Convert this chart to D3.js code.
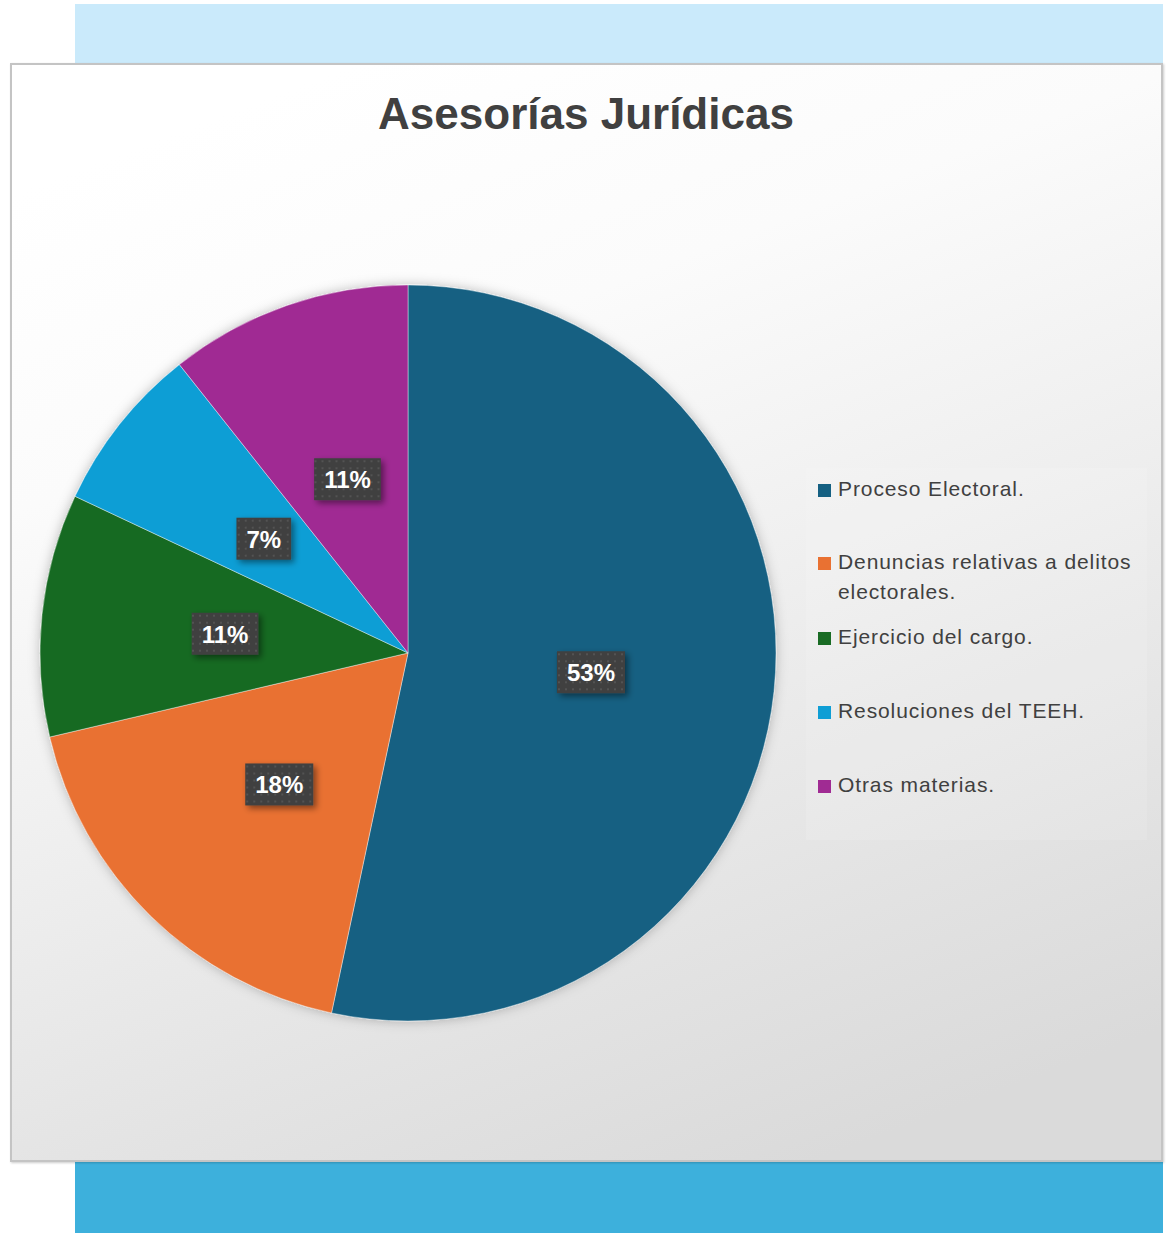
<!DOCTYPE html>
<html><head><meta charset="utf-8">
<script src="https://cdn.jsdelivr.net/npm/d3@7"></script>
<style>html,body{margin:0;padding:0;background:#fff;}svg{display:block;}</style>
</head><body>
<svg id="c" width="1168" height="1233"></svg>
<script>
const categories = ["Proceso Electoral.", "Denuncias relativas a delitos electorales.", "Ejercicio del cargo.", "Resoluciones del TEEH.", "Otras materias."];
const legendLines = [["Proceso Electoral."], ["Denuncias relativas a delitos", "electorales."], ["Ejercicio del cargo."], ["Resoluciones del TEEH."], ["Otras materias."]];
const values = [80, 27, 16, 11, 16];
const colors = ["#156082", "#E97132", "#196B24", "#0F9ED5", "#A02B93"];
const title = "Asesorías Jurídicas";

const svg = d3.select("#c");
const defs = svg.append("defs");
const g1 = defs.append("linearGradient").attr("id","bg").attr("x1","0.3").attr("y1","0").attr("x2","0.7").attr("y2","1");
g1.append("stop").attr("offset","0").attr("stop-color","#ffffff");
g1.append("stop").attr("offset","0.25").attr("stop-color","#fbfbfb");
g1.append("stop").attr("offset","1").attr("stop-color","#dadada");
const pat = defs.append("pattern").attr("id","dots").attr("width",7).attr("height",7).attr("patternUnits","userSpaceOnUse");
pat.append("rect").attr("width",7).attr("height",7).attr("fill","#404040");
pat.append("rect").attr("x",2).attr("y",2).attr("width",2).attr("height",2).attr("fill","#525252");
const sh = defs.append("filter").attr("id","sh").attr("x","-30%").attr("y","-30%").attr("width","170%").attr("height","170%");
sh.append("feDropShadow").attr("dx",3).attr("dy",3).attr("stdDeviation",3).attr("flood-color","#000").attr("flood-opacity",0.45);
const psh = defs.append("filter").attr("id","psh").attr("x","-10%").attr("y","-10%").attr("width","120%").attr("height","120%");
psh.append("feDropShadow").attr("dx",0).attr("dy",0).attr("stdDeviation",6).attr("flood-color","#000").attr("flood-opacity",0.25);
const fsh = defs.append("filter").attr("id","fsh").attr("x","-5%").attr("y","-5%").attr("width","110%").attr("height","110%");
fsh.append("feDropShadow").attr("dx",1).attr("dy",1).attr("stdDeviation",1).attr("flood-color","#000").attr("flood-opacity",0.2);

// bands
svg.append("rect").attr("x",75).attr("y",4).attr("width",1088).attr("height",60).attr("fill","#CAEAFB");
svg.append("rect").attr("x",75).attr("y",1162).attr("width",1088).attr("height",71).attr("fill","#3DB0DC");
// frame
svg.append("rect").attr("x",11).attr("y",64).attr("width",1151).attr("height",1097)
  .attr("fill","url(#bg)").attr("stroke","#c4c4c4").attr("stroke-width",2).attr("filter","url(#fsh)");

svg.append("text").attr("x",586).attr("y",129).attr("text-anchor","middle")
  .attr("font-family","Liberation Sans, Arial, sans-serif").attr("font-weight","bold").attr("font-size",44)
  .attr("fill","#404040").text(title);

const cx = 408, cy = 653, r = 368;
const pie = d3.pie().sort(null).value(d => d);
const arcs = pie(values);
const arc = d3.arc().innerRadius(0).outerRadius(r);
const labelArc = d3.arc().innerRadius(r/2).outerRadius(r/2);
const total = d3.sum(values);

const pg = svg.append("g").attr("transform",`translate(${cx},${cy})`);
pg.append("g").attr("filter","url(#psh)").selectAll("path").data(arcs).join("path")
  .attr("d",arc).attr("fill",(d,i)=>colors[i]).attr("stroke","#ffffff").attr("stroke-opacity",0.5).attr("stroke-width",0.8);

const lg = pg.selectAll("g.lab").data(arcs).join("g").attr("class","lab")
  .attr("transform",d=>`translate(${labelArc.centroid(d)})`);
lg.each(function(d){
  const t = Math.round(d.data/total*100)+"%";
  const s = d3.select(this);
  const rect = s.append("rect").attr("fill","url(#dots)").attr("filter","url(#sh)");
  const tx = s.append("text").attr("text-anchor","middle").attr("y",9)
    .attr("font-family","Liberation Sans, Arial, sans-serif").attr("font-weight","bold").attr("font-size",24)
    .attr("fill","#ffffff").text(t);
  const w = tx.node().getComputedTextLength() + 20;
  rect.attr("x",-w/2).attr("y",-21).attr("width",w).attr("height",42);
});

// legend
svg.append("rect").attr("x",806).attr("y",468).attr("width",341).attr("height",372).attr("fill","#ffffff").attr("fill-opacity",0.12);
const legY = [489, 562, 637, 711, 785];
const leg = svg.append("g");
categories.forEach((c,i)=>{
  const gg = leg.append("g").attr("transform",`translate(818,${legY[i]})`);
  gg.append("rect").attr("x",0).attr("y",-5).attr("width",13).attr("height",13).attr("fill",colors[i]);
  const tx = gg.append("text").attr("font-family","Liberation Sans, Arial, sans-serif").attr("font-size",21)
    .attr("letter-spacing",0.9).attr("fill","#404040");
  legendLines[i].forEach((ln,j)=>{
    tx.append("tspan").attr("x",20).attr("y",7 + j*30).text(ln);
  });
});
</script>
</body></html>
